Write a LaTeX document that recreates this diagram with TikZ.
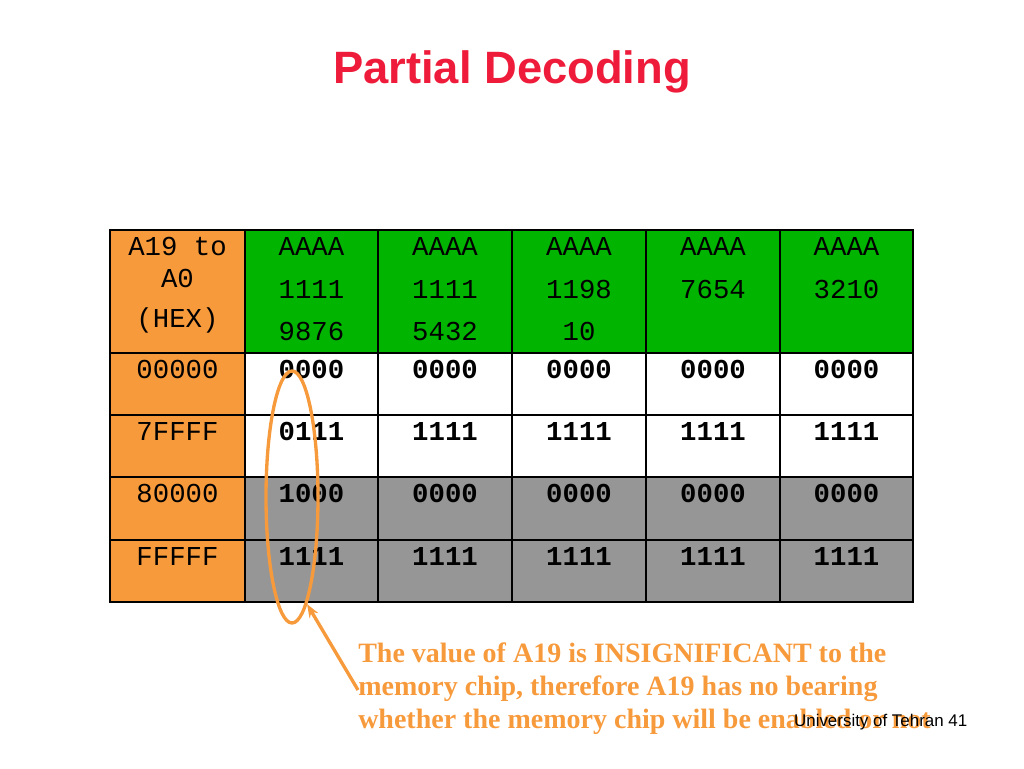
\documentclass[tikz,border=0pt]{standalone}
\usepackage{fontspec}
\usetikzlibrary{shapes.geometric,arrows.meta}
\setmainfont{Liberation Serif}
\newfontfamily\arialf{Liberation Sans}
\newfontfamily\monof{Liberation Mono}
\definecolor{org}{HTML}{F79A3C}
\definecolor{grn}{HTML}{00B400}
\definecolor{gry}{HTML}{969696}
\definecolor{ttl}{HTML}{EE1C3A}
\begin{document}
\begin{tikzpicture}[x=0.75pt,y=-0.75pt,
  hd/.style={font=\monof\fontsize{20.5}{24}\selectfont,align=center,anchor=north,inner sep=1pt},
  hg/.style={font=\monof\fontsize{20.5}{32}\selectfont,align=center,anchor=north,inner sep=1pt},
  bd/.style={font=\monof\bfseries\fontsize{20.5}{24}\selectfont,anchor=north,inner sep=1pt}]
\useasboundingbox (0,0) rectangle (1024,768);
\node[font=\arialf\bfseries\fontsize{34}{40}\selectfont,text=ttl] (title) at (512,72) {Partial Decoding};
% fills
\fill[org] (110,230) rectangle (245,602);
\fill[grn] (245,230) rectangle (913,353);
\fill[white] (245,353) rectangle (913,477);
\fill[gry] (245,477) rectangle (913,602);
% grid
\draw[line width=1.5pt] (110,230) rectangle (913,602);
\foreach \x in {245,378,512,646,780} \draw[line width=1pt] (\x,230) -- (\x,602);
\foreach \y in {353,415,477,540} \draw[line width=1pt] (110,\y) -- (913,\y);
% header
\node[hd] (h0) at (177.5,236) {A19 to\\A0\\[6pt](HEX)};
\node[hg] (h1) at (311.5,236) {AAAA\\1111\\9876};
\node[hg] (h2) at (445,236) {AAAA\\1111\\5432};
\node[hg] (h3) at (579,236) {AAAA\\1198\\10};
\node[hg] (h4) at (713,236) {AAAA\\7654};
\node[hg] (h5) at (846.5,236) {AAAA\\3210};
\foreach \y/\a/\b/\c/\n in {359/00000/0000/0000/r1,421/7FFFF/0111/1111/r2,483/80000/1000/0000/r3,546/FFFFF/1111/1111/r4}{
  \node[hd] (\n a) at (177.5,\y) {\a};
  \node[bd] (\n b) at (311.5,\y) {\b};
  \node[bd] (\n c) at (445,\y) {\c};
  \node[bd] (\n d) at (579,\y) {\c};
  \node[bd] (\n e) at (713,\y) {\c};
  \node[bd] (\n f) at (846.5,\y) {\c};
}
\node[draw=org,line width=2.5pt,ellipse,minimum width=39pt,minimum height=189pt,inner sep=0pt] (ell) at (292,497) {};
\node[anchor=north west,align=left,text=org,font=\bfseries\fontsize{21}{24.7}\selectfont,inner sep=0pt] (note) at (358,643) {The value of A19 is INSIGNIFICANT to the\\memory chip, therefore A19 has no bearing\\whether the memory chip will be enabled or not};
\coordinate (ns) at (358,690);
\draw[org,line width=2.5pt,-{Stealth[length=10pt]}] (ns) -- (ell.-82);
\node[anchor=east,font=\arialf\fontsize{12.7}{14}\selectfont] (foot) at (972,722) {University of Tehran 41};
\end{tikzpicture}
\end{document}
